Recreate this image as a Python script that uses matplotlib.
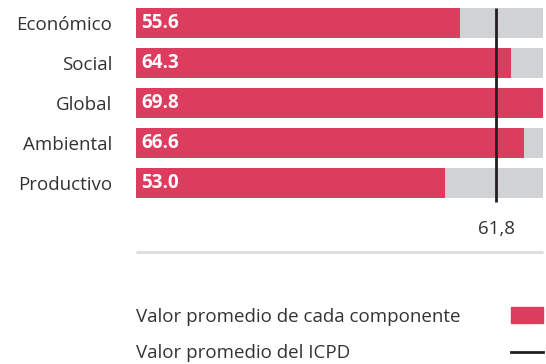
import matplotlib.pyplot as plt
from matplotlib.patches import Rectangle
from matplotlib.lines import Line2D

# component scores and the overall average
componentes = ['Económico', 'Social', 'Global', 'Ambiental', 'Productivo']
valores = [55.6, 64.3, 69.8, 66.6, 53.0]
promedio_icpd = 61.8

rojo = '#DC3C5E'
gris = '#D1D2D4'
negro = '#231F20'
texto = '#333333'

plt.rcParams['font.family'] = ['Open Sans', 'DejaVu Sans']
fs = 13.5

W, H = 546, 364
escala_max = max(valores)
fig = plt.figure(figsize=(W / 100, H / 100), dpi=100)
# axes spans the five bar rows (pixel rows 3..203)
ax = fig.add_axes([136 / W, 1 - 203 / H, (543 - 136) / W, 200 / H])

ypos = list(range(len(componentes)))
ax.barh(ypos, [escala_max] * len(ypos), height=0.75, color=gris, zorder=1)
ax.barh(ypos, valores, height=0.75, color=rojo, zorder=2)

for y, v in zip(ypos, valores):
    ax.text(0.9, y, f'{v:.1f}', color='white', fontsize=fs, fontweight='bold',
            va='center', ha='left', zorder=4)

ax.vlines(promedio_icpd, -0.375, 4.475, color=negro, lw=2, zorder=3)
ax.text(promedio_icpd, 5.15, f'{promedio_icpd}'.replace('.', ','), color=texto,
        fontsize=fs, ha='center', va='center', clip_on=False)
ax.plot([0, escala_max], [5.72, 5.72], color='#DDDDDD', lw=2, clip_on=False,
        solid_capstyle='butt')

ax.set_xlim(0, escala_max)
ax.set_ylim(4.5, -0.5)
ax.set_yticks(ypos)
ax.set_yticklabels(componentes, fontsize=fs, color=texto)
ax.tick_params(axis='y', length=0, pad=17)
ax.set_xticks([])
for s in ax.spines.values():
    s.set_visible(False)

# legend
fig.text(136 / W, 1 - 317 / H, 'Valor promedio de cada componente', fontsize=fs,
         color=texto, va='center', ha='left')
fig.patches.append(Rectangle((511 / W, 1 - 323 / H), 32 / W, 16 / H,
                             transform=fig.transFigure, color=rojo))
fig.text(136 / W, 1 - 353 / H, 'Valor promedio del ICPD', fontsize=fs,
         color=texto, va='center', ha='left')
fig.lines.append(Line2D([511 / W, 543 / W], [1 - 352 / H, 1 - 352 / H],
                        transform=fig.transFigure, color=negro, lw=2))

fig.savefig('out.png', dpi=100)
